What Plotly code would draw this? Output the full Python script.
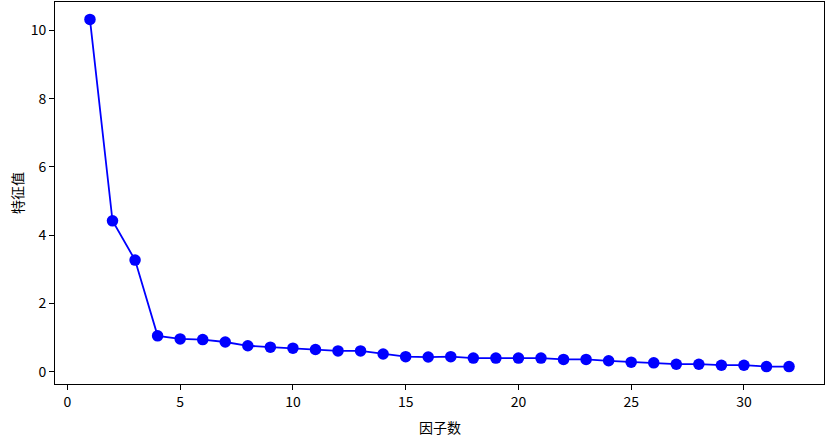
import plotly.graph_objects as go

factors = list(range(1, 33))
eigenvalues = [10.32, 4.42, 3.27, 1.05, 0.96, 0.94, 0.87, 0.76, 0.72, 0.69,
               0.65, 0.61, 0.61, 0.52, 0.44, 0.43, 0.44, 0.40, 0.40, 0.40,
               0.40, 0.36, 0.36, 0.32, 0.28, 0.26, 0.22, 0.22, 0.19, 0.19,
               0.15, 0.15]
x_ticks = [0, 5, 10, 15, 20, 25, 30]
y_ticks = [0, 2, 4, 6, 8, 10]
x_title = "因子数"
y_title = "特征值"

font = "Noto Sans CJK SC, DejaVu Sans, sans-serif"

fig = go.Figure(go.Scatter(
    x=factors, y=eigenvalues, mode="lines+markers",
    line=dict(color="#0000ff", width=1.8),
    marker=dict(color="#0000ff", size=11.5),
))

axis_common = dict(
    showline=True, linecolor="black", linewidth=1, mirror=True,
    ticks="outside", ticklen=5, tickcolor="black", tickwidth=1,
    showgrid=False, zeroline=False, automargin=False,
    tickfont=dict(family=font, size=14, color="black"),
)

fig.update_layout(
    width=827, height=436,
    margin=dict(l=55, r=3, t=2, b=52),
    paper_bgcolor="white", plot_bgcolor="white",
    showlegend=False,
    font=dict(family=font, color="black"),
    xaxis=dict(range=[-0.55, 33.55], tickvals=x_ticks, **axis_common),
    yaxis=dict(range=[-0.36, 10.83], tickvals=y_ticks, **axis_common),
    annotations=[
        dict(text=x_title, xref="paper", yref="paper", x=0.5, y=0,
             yshift=-43, showarrow=False, xanchor="center", yanchor="middle",
             font=dict(family=font, size=14, color="black")),
        dict(text=y_title, xref="paper", yref="paper", x=0, y=0.5,
             xshift=-38, showarrow=False, xanchor="center", yanchor="middle",
             textangle=-90, font=dict(family=font, size=14, color="black")),
    ],
)

fig.write_html("out.html", config={"displayModeBar": False},
               post_script="document.body.style.margin='0';document.body.style.overflow='hidden';")
